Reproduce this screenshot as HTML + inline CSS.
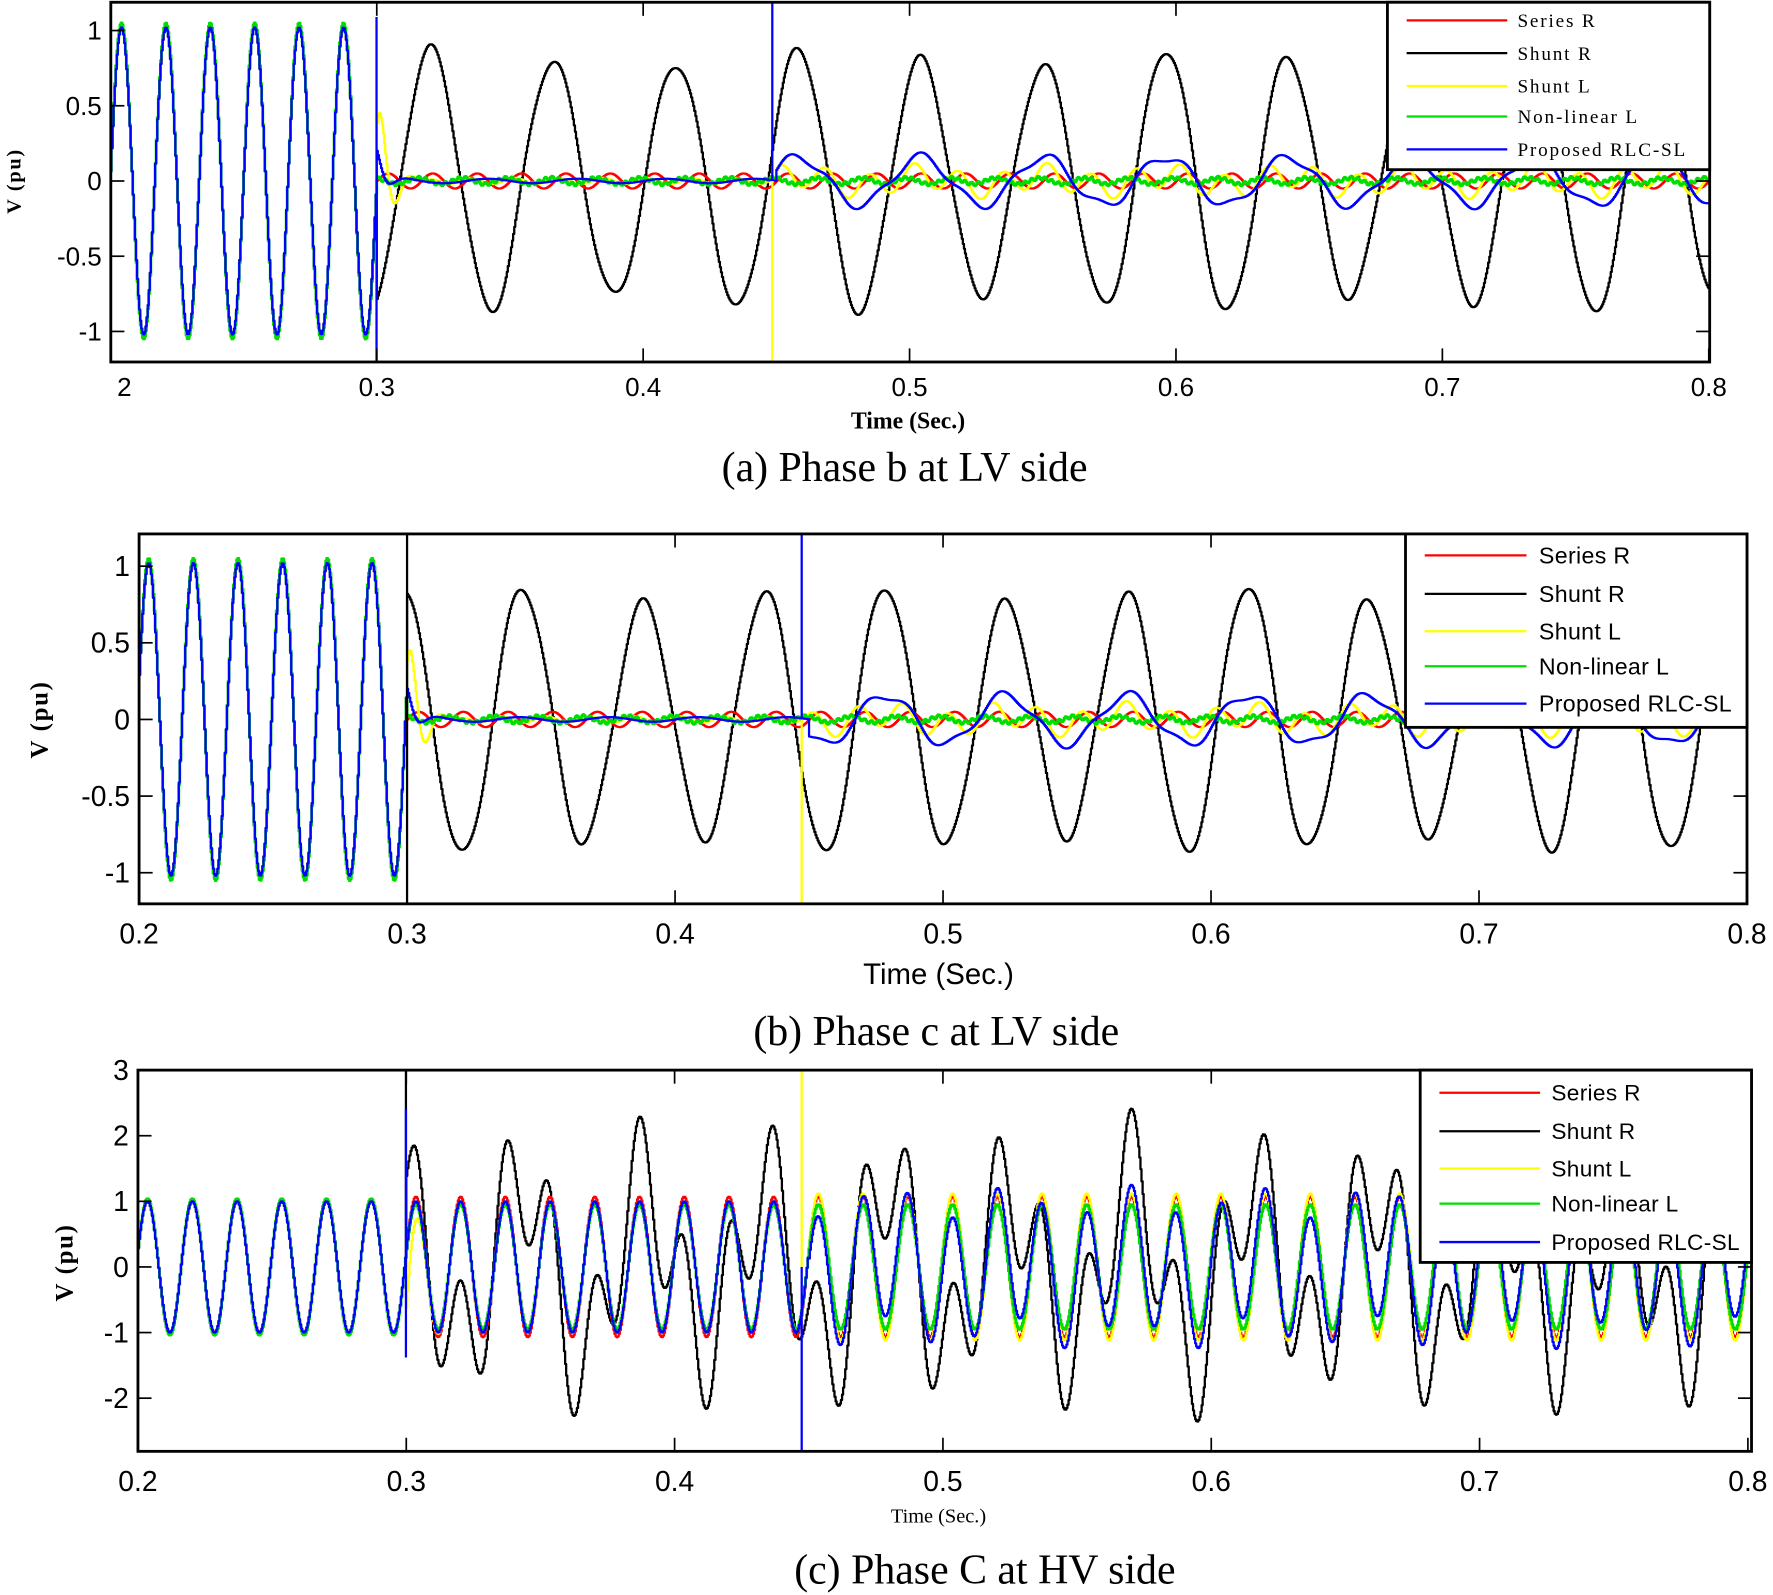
<!DOCTYPE html>
<html><head><meta charset="utf-8"><style>
html,body{margin:0;padding:0;background:#fff;}
svg{display:block;}
.tk{font-family:"Liberation Sans",sans-serif;fill:#000;}
.sf{font-family:"Liberation Serif",serif;fill:#000;}
</style></head><body>
<svg id="s" xmlns="http://www.w3.org/2000/svg" width="1773" height="1595" viewBox="0 0 1568 1410" preserveAspectRatio="none">
<rect width="1568" height="1410" fill="#fff"/>
<defs>
<clipPath id="ca"><rect x="98" y="2" width="1414" height="318"/></clipPath>
<clipPath id="cb"><rect x="123" y="472" width="1422" height="327"/></clipPath>
<clipPath id="cc"><rect x="122" y="946" width="1427" height="337"/></clipPath>
</defs>
<g id="ga" clip-path="url(#ca)"></g>
<g id="gb" clip-path="url(#cb)"></g>
<g id="gc" clip-path="url(#cc)"></g>
<g id="frames"></g>
</svg>
<script>
var NS="http://www.w3.org/2000/svg",S=document.getElementById('s');
function el(p,n,a,txt){var e=document.createElementNS(NS,n);for(var k in a)e.setAttribute(k,a[k]);if(txt!=null)e.textContent=txt;p.appendChild(e);return e;}
var P2=Math.PI*2;
var panels={
 a:{g:'ga',X:function(t){return 97.6+(t-0.2)*2356},Y:function(v){return 160-133*v},box:[98,2,1512,320],tp:0.204},
 b:{g:'gb',X:function(t){return 123+(t-0.2)*2370},Y:function(v){return 636-135.5*v},box:[123,472,1545,799],tp:0.2034},
 c:{g:'gc',X:function(t){return 122+(t-0.2)*2373},Y:function(v){return 1120-58*v},box:[122,946,1549,1283],tp:0.2034}
};
function draw(p,fn,col,w){
 var d="",dt=0.0004,first=true;
 for(var t=0.2;t<=0.8;t+=dt){
  var x=p.X(t),y=p.Y(fn(t));
  if(first){d+="M"+x.toFixed(1)+" "+y.toFixed(1);first=false;}
  else d+="H"+x.toFixed(1)+"V"+y.toFixed(1);
 }
 el(document.getElementById(p.g),'path',{d:d,fill:'none',stroke:col,'stroke-width':w,'stroke-linejoin':'round'});
}
function lv(p,fL,tpk){
 var s=function(t){return Math.cos(P2*60*(t-p.tp))*1.02};
 var bl=function(t){return Math.cos(P2*fL*(t-tpk))};
 var A=function(t){return 0.82+0.06*Math.sin(P2*7*t)};
 draw(p,function(t){return t<0.3?s(t):A(t)*bl(t)+0.03*Math.sin(P2*60*t)},'#000',2);
 draw(p,function(t){return t<0.3?s(t):0.05*Math.sin(P2*60*t)},'#f00',2);
 draw(p,function(t){if(t<0.3)return s(t);var v=0.55*Math.cos(P2*90*(t-0.3015))*Math.exp(-(t-0.3)/0.005);
   if(t<0.45)return v+0.02*Math.sin(P2*60*t+1);return 0.08*Math.sin(P2*60*t+1)+0.04*bl(t)},'#ff0',2);
 draw(p,function(t){return t<0.3?s(t)*1.03:0.012*Math.sin(P2*400*t)+0.02*Math.sin(P2*60*t+2)},'#0d0',2.5);
 draw(p,function(t){if(t<0.3)return s(t);var v=0.2*Math.exp(-(t-0.3)/0.003)*Math.cos(P2*80*(t-0.3));
   if(t<0.45)return v+0.015*Math.sin(P2*30*t);return 0.16*bl(t)+0.03*Math.sin(P2*60*t)},'#00f',2);
}
lv(panels.a,1/0.046,0.320);
lv(panels.b,1/0.0451,0.343);
(function(){var p=panels.c;
 var s=function(t){return Math.cos(P2*60*(t-p.tp))};
 var f2=1/0.0454;
 var bl=function(t){return Math.cos(P2*f2*(t-0.343))};
 draw(p,function(t){return t<0.3?s(t):s(t)+1.45*bl(t)*(0.9+0.1*Math.sin(P2*9*t))},'#000',2);
 draw(p,function(t){return t<0.3?s(t):s(t)*1.07},'#f00',2);
 draw(p,function(t){if(t<0.3)return s(t);var v=-0.9*Math.exp(-(t-0.3)/0.003);return (t<0.45?s(t):s(t)*1.12)+v},'#ff0',2);
 draw(p,function(t){return t<0.3?s(t)*1.04:s(t)*0.95},'#0d0',2.5);
 draw(p,function(t){return t<0.3?s(t):(t<0.45?s(t):s(t)+0.25*bl(t))},'#00f',2);
})();
var F=document.getElementById('frames');
function vl(x,y1,y2,c){el(F,'line',{x1:x,x2:x,y1:y1,y2:y2,stroke:c,'stroke-width':2});}
vl(333,15,320,'#00f');vl(683,2,160,'#00f');vl(683,160,320,'#ff0');
vl(360,472,799,'#000');vl(709,472,636,'#00f');vl(709,636,799,'#ff0');
vl(359,946,1120,'#000');vl(359,980,1200,'#00f');vl(709,946,1120,'#ff0');vl(709,1120,1283,'#00f');
function frame(p,xt,xl,yt,yl,fs,ly){
 var b=p.box;
 el(F,'rect',{x:b[0],y:b[1],width:b[2]-b[0],height:b[3]-b[1],fill:'none',stroke:'#000','stroke-width':2.5});
 xt.forEach(function(t,i){var x=p.X(t);
  el(F,'line',{x1:x,x2:x,y1:b[1],y2:b[1]+12,stroke:'#000','stroke-width':1.5});
  el(F,'line',{x1:x,x2:x,y1:b[3],y2:b[3]-12,stroke:'#000','stroke-width':1.5});
  el(F,'text',{x:(i==0&&p===panels.a)?110:x,y:ly,'text-anchor':'middle','class':'tk','font-size':fs},xl[i]);});
 yt.forEach(function(v,i){var y=p.Y(v);
  el(F,'line',{x1:b[0],x2:b[0]+12,y1:y,y2:y,stroke:'#000','stroke-width':1.5});
  el(F,'line',{x1:b[2],x2:b[2]-12,y1:y,y2:y,stroke:'#000','stroke-width':1.5});
  el(F,'text',{x:b[0]-8,y:y+fs*0.35,'text-anchor':'end','class':'tk','font-size':fs},yl[i]);});
}
var xt=[0.2,0.3,0.4,0.5,0.6,0.7,0.8];
frame(panels.a,xt,['2','0.3','0.4','0.5','0.6','0.7','0.8'],[1,0.5,0,-0.5,-1],['1','0.5','0','-0.5','-1'],23,350);
frame(panels.b,xt,['0.2','0.3','0.4','0.5','0.6','0.7','0.8'],[1,0.5,0,-0.5,-1],['1','0.5','0','-0.5','-1'],25,834);
frame(panels.c,xt,['0.2','0.3','0.4','0.5','0.6','0.7','0.8'],[3,2,1,0,-1,-2],['3','2','1','0','-1','-2'],25,1318);
var names=['Series R','Shunt R','Shunt L','Non-linear L','Proposed RLC-SL'],cols=['#f00','#000','#ff0','#0d0','#00f'];
function legend(x,y,w,h,ys,l1,l2,tx,cls,fs,ls){
 el(F,'rect',{x:x,y:y,width:w,height:h,fill:'#fff',stroke:'#000','stroke-width':2.5});
 ys.forEach(function(yy,i){el(F,'line',{x1:l1,x2:l2,y1:yy,y2:yy,stroke:cols[i],'stroke-width':2});
  el(F,'text',{x:tx,y:yy+fs*0.35,'class':cls,'font-size':fs,'letter-spacing':ls},names[i]);});
}
legend(1227,2,285,148,[18,47,76,103,132],1244,1333,1342,'sf',17,1.6);
legend(1243,472,302,171,[491,525,558,589,622],1260,1350,1361,'tk',20.5,0.3);
legend(1256,946,293,170,[966,1000,1033,1064,1098],1273,1362,1372,'tk',20,0.3);
el(F,'text',{x:803,y:379,'text-anchor':'middle','class':'sf','font-size':21,'font-weight':'bold'},'Time (Sec.)');
el(F,'text',{x:800,y:425,'text-anchor':'middle','class':'sf','font-size':37},'(a) Phase b at LV side');
el(F,'text',{x:830,y:870,'text-anchor':'middle','class':'tk','font-size':26},'Time (Sec.)');
el(F,'text',{x:828,y:924,'text-anchor':'middle','class':'sf','font-size':37},'(b) Phase c at LV side');
el(F,'text',{x:830,y:1346,'text-anchor':'middle','class':'sf','font-size':18},'Time (Sec.)');
el(F,'text',{x:871,y:1400,'text-anchor':'middle','class':'sf','font-size':37},'(c) Phase C at HV side');
function yl(x,y,fs){el(F,'text',{x:x,y:y,'text-anchor':'middle','class':'sf','font-size':fs,'font-weight':'bold','letter-spacing':1.5,transform:'rotate(-90 '+x+' '+y+')'},'V (pu)');}
yl(18,160,18);yl(42,636,22);yl(64,1116,22);
</script>
</body></html>
